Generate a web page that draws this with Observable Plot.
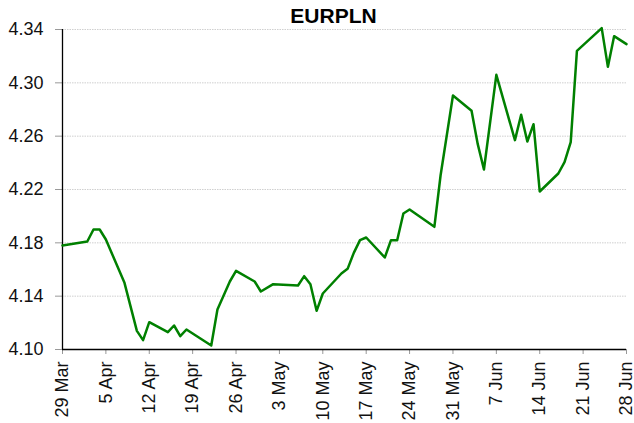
<!DOCTYPE html>
<html>
<head>
<meta charset="utf-8">
<script src="https://cdn.jsdelivr.net/npm/d3@7"></script>
<script src="https://cdn.jsdelivr.net/npm/@observablehq/plot@0.6"></script>
<style>
  html, body { margin: 0; padding: 0; background: #fff; }
  svg { display: block; }
</style>
</head>
<body>
<div id="chart"></div>
<script>
const title = "EURPLN";

const dates = [
  "2013-03-29","2013-04-02","2013-04-03","2013-04-04","2013-04-05","2013-04-08",
  "2013-04-10","2013-04-11","2013-04-12","2013-04-15","2013-04-16","2013-04-17",
  "2013-04-18","2013-04-22","2013-04-23","2013-04-25","2013-04-26","2013-04-29",
  "2013-04-30","2013-05-02","2013-05-06","2013-05-07","2013-05-08","2013-05-09",
  "2013-05-10","2013-05-13","2013-05-14","2013-05-15","2013-05-16","2013-05-17",
  "2013-05-20","2013-05-21","2013-05-22","2013-05-23","2013-05-24","2013-05-28",
  "2013-05-29","2013-05-31","2013-06-03","2013-06-04","2013-06-05","2013-06-07",
  "2013-06-10","2013-06-11","2013-06-12","2013-06-13","2013-06-14","2013-06-17",
  "2013-06-18","2013-06-19","2013-06-20","2013-06-24","2013-06-25","2013-06-26",
  "2013-06-27","2013-06-28"
];

const values = [
  4.178, 4.181, 4.190, 4.190, 4.1825, 4.150,
  4.114, 4.107, 4.1205, 4.113, 4.118, 4.110,
  4.115, 4.103, 4.130, 4.151, 4.159, 4.151,
  4.1435, 4.149, 4.148, 4.155, 4.149, 4.129,
  4.142, 4.157, 4.1605, 4.1725, 4.182, 4.184,
  4.169, 4.182, 4.182, 4.202, 4.205, 4.192,
  4.2305, 4.2905, 4.279, 4.254, 4.235, 4.306,
  4.257, 4.276, 4.256, 4.269, 4.2185, 4.232,
  4.2405, 4.2555, 4.324, 4.341, 4.312, 4.335,
  4.332, 4.329
];

const xTickDates = [
  "2013-03-29","2013-04-05","2013-04-12","2013-04-19","2013-04-26","2013-05-03",
  "2013-05-10","2013-05-17","2013-05-24","2013-05-31","2013-06-07","2013-06-14",
  "2013-06-21","2013-06-28"
];
const yTicks = [4.10, 4.14, 4.18, 4.22, 4.26, 4.30, 4.34];

const parse = d3.utcParse("%Y-%m-%d");
const data = dates.map((d, i) => ({date: parse(d), value: values[i]}));
const xTicks = xTickDates.map(parse);
const xDomain = [xTicks[0], xTicks[xTicks.length - 1]];

const chart = Plot.plot({
  width: 634,
  height: 423,
  marginLeft: 62,
  marginRight: 8,
  marginTop: 29,
  marginBottom: 74,
  style: {fontFamily: "Arial, 'Liberation Sans', sans-serif", background: "#fff", color: "#000"},
  x: {type: "utc", domain: xDomain},
  y: {domain: [4.10, 4.34]},
  marks: [
    Plot.gridY(yTicks.slice(1), {stroke: "#cfcfcf", strokeOpacity: 1, strokeDasharray: "1.5,1"}),
    Plot.axisY(yTicks, {
      tickSize: 7, tickPadding: 12, fontSize: 18,
      tickFormat: d3.format(".2f"),
      stroke: "#999", fill: "#111", label: null
    }),
    Plot.axisX(xTicks, {
      tickSize: 5, tickPadding: 7, fontSize: 18, tickRotate: -90,
      tickFormat: d3.utcFormat("%-d %b"),
      stroke: "#999", fill: "#111", label: null
    }),
    Plot.ruleX([xDomain[0]], {stroke: "#000", strokeWidth: 1.3}),
    Plot.ruleY([4.10], {stroke: "#000", strokeWidth: 1.3}),
    Plot.line(data, {x: "date", y: "value", stroke: "#008000", strokeWidth: 2.5}),
    Plot.text([title], {
      frameAnchor: "top", lineAnchor: "middle", dy: -13, dx: -11,
      fontSize: 21, fontWeight: "bold", fill: "#000"
    })
  ]
});
document.getElementById("chart").append(chart);
</script>
</body>
</html>
